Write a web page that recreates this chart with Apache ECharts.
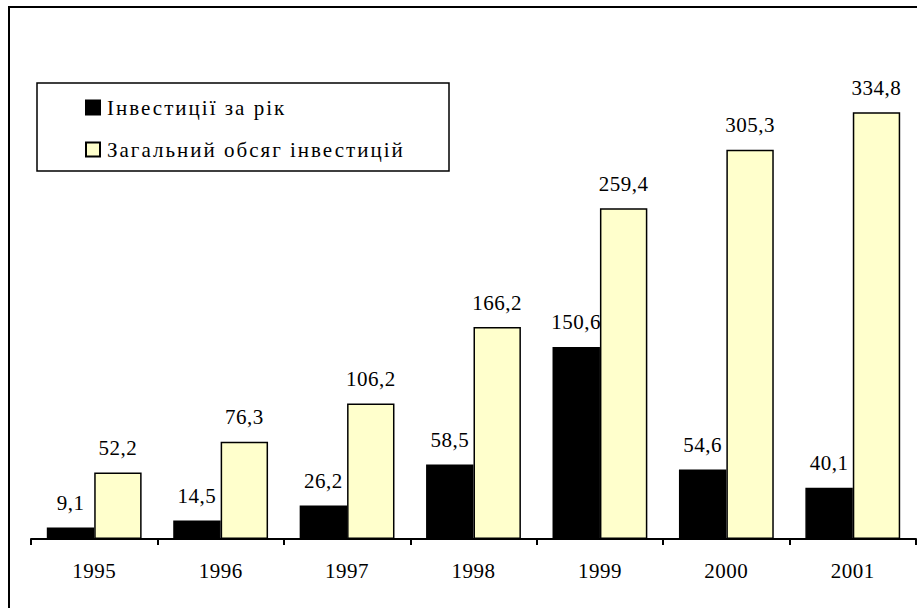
<!DOCTYPE html>
<html>
<head>
<meta charset="utf-8">
<script src="https://cdn.jsdelivr.net/npm/echarts@6/dist/echarts.min.js"></script>
<style>
  html, body { margin: 0; padding: 0; background: #fff; }
  #chart { width: 917px; height: 608px; }
</style>
</head>
<body>
<div id="chart"></div>
<script>
const years = ['1995', '1996', '1997', '1998', '1999', '2000', '2001']
const perYear = [9.1, 14.5, 26.2, 58.5, 150.6, 54.6, 40.1]
const total = [52.2, 76.3, 106.2, 166.2, 259.4, 305.3, 334.8]
const seriesNames = ['Інвестиції за рік', 'Загальний обсяг інвестицій']

const font = 'Liberation Serif, Times New Roman, serif'

function commaLabel(p) {
  return String(p.value).replace('.', ',')
}

// the original text is set a bit wider than Times, widen it a little
function spreadText() {
  document.querySelectorAll('#chart text').forEach(function (t) {
    t.style.letterSpacing = /[А-яІіЇїЄє]/.test(t.textContent) ? '2px' : '0.5px'
  })
}

const myChart = echarts.init(document.getElementById('chart'), null, { renderer: 'svg' })
myChart.on('finished', spreadText)
myChart.setOption({
  animation: false,
  backgroundColor: '#fff',
  textStyle: { fontFamily: font, color: '#000' },
  graphic: [
    {
      type: 'rect',
      z: 100,
      shape: { x: 9, y: 7, width: 1000, height: 1000 },
      style: { fill: 'none', stroke: '#000', lineWidth: 2 }
    },
    {
      type: 'rect',
      z: 1,
      shape: { x: 37, y: 83, width: 412, height: 88 },
      style: { fill: '#fff', stroke: '#000', lineWidth: 1.5 }
    }
  ],
  legend: {
    orient: 'vertical',
    left: 85,
    top: 97,
    padding: 0,
    itemGap: 21,
    itemWidth: 14,
    itemHeight: 14,
    icon: 'rect',
    z: 5,
    data: seriesNames,
    textStyle: { fontFamily: font, fontSize: 21, lineHeight: 20, color: '#000', padding: [0, 0, 0, 2] }
  },
  grid: {
    left: 31,
    right: 1,
    top: 29,
    bottom: 69
  },
  xAxis: {
    type: 'category',
    data: years,
    axisLine: { lineStyle: { color: '#000', width: 2 } },
    axisTick: { show: true, length: 6, inside: false, lineStyle: { color: '#000', width: 2 } },
    axisLabel: { fontFamily: font, fontSize: 21, color: '#000', margin: 21 }
  },
  yAxis: {
    type: 'value',
    min: 0,
    max: 400,
    show: false,
    splitLine: { show: false }
  },
  series: [
    {
      name: seriesNames[0],
      type: 'bar',
      data: perYear,
      barGap: '0%',
      barCategoryGap: '25%',
      itemStyle: { color: '#000', borderColor: '#000', borderWidth: 1.5 },
      label: {
        show: true,
        position: 'top',
        distance: 14,
        fontFamily: font,
        fontSize: 21,
        color: '#000',
        formatter: commaLabel
      }
    },
    {
      name: seriesNames[1],
      type: 'bar',
      data: total,
      itemStyle: { color: '#ffffcc', borderColor: '#000', borderWidth: 1.5 },
      label: {
        show: true,
        position: 'top',
        distance: 14,
        fontFamily: font,
        fontSize: 21,
        color: '#000',
        formatter: commaLabel
      }
    }
  ]
})
spreadText()
setTimeout(spreadText, 50)
</script>
</body>
</html>
